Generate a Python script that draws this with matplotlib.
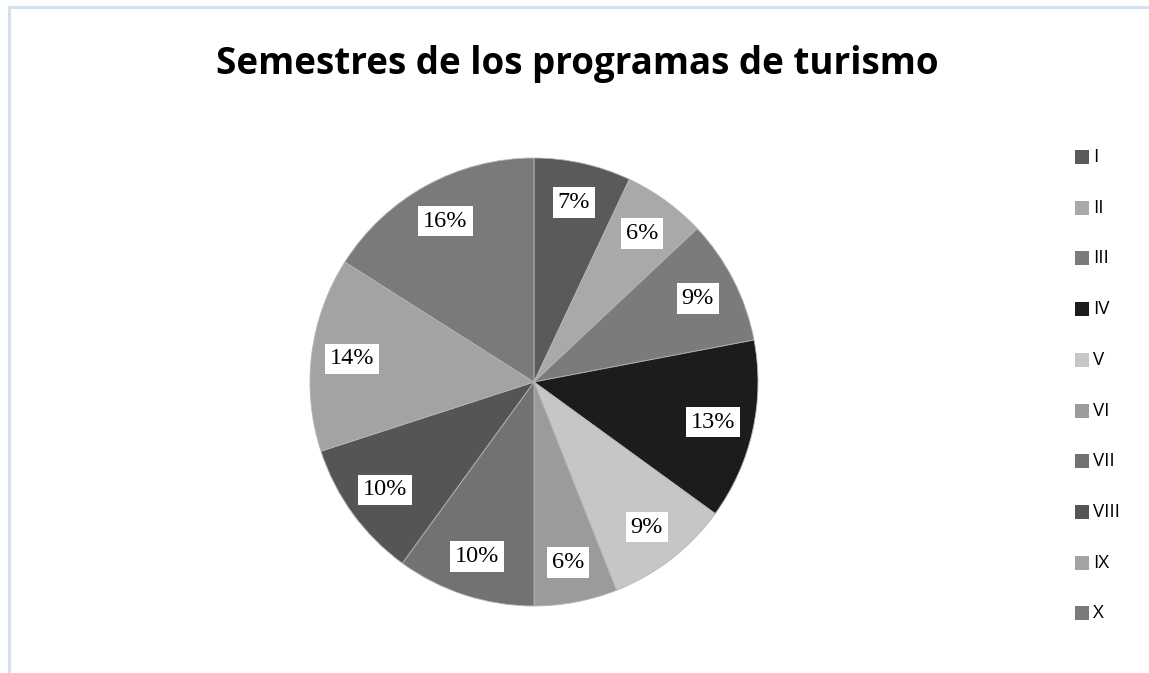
#!/usr/bin/env python3
# -*- coding: utf-8 -*-
"""
Pie chart: Semestres de los programas de turismo.
"""
import matplotlib
matplotlib.use("Agg")
import matplotlib.pyplot as plt
from matplotlib.patches import Rectangle

# data
semestres = ["I", "II", "III", "IV", "V", "VI", "VII", "VIII", "IX", "X"]
porcentajes = [7, 6, 9, 13, 9, 6, 10, 10, 14, 16]
grises = ["#5a5a5a", "#a9a9a9", "#7b7b7b", "#1c1c1c", "#c6c6c6",
          "#9b9b9b", "#727272", "#555555", "#a3a3a3", "#7a7a7a"]

W, H = 1149, 673
fig = plt.figure(figsize=(W / 100, H / 100), dpi=100)
fig.patch.set_facecolor("white")

# light frame (cut off at right and bottom)
fig.add_artist(plt.Line2D([8.5 / W, 8.5 / W], [0, 1 - 6.5 / H],
                          transform=fig.transFigure, color="#d6e1ef", lw=2.2))
fig.add_artist(plt.Line2D([8.5 / W, 1], [1 - 6.5 / H, 1 - 6.5 / H],
                          transform=fig.transFigure, color="#d6e1ef", lw=2.2))

fig.text(577 / W, 1 - 64 / H, "Semestres de los programas de turismo",
         ha="center", va="center", fontsize=26.5, fontweight="bold",
         family=["Open Sans", "DejaVu Sans"])

# pie axes: center (534, 382) px, radius 224 px
cx, cy, r = 534, 382, 224
ax = fig.add_axes([(cx - r) / W, (H - cy - r) / H, 2 * r / W, 2 * r / H])
wedges, texts = ax.pie(porcentajes, colors=grises, startangle=90,
                       counterclock=False, radius=1,
                       labels=[f"{p}%" for p in porcentajes],
                       labeldistance=0.82,
                       wedgeprops=dict(edgecolor="#b5b5b5", linewidth=0.6))
for t in texts:
    t.set_ha("center")
    t.set_va("center")
    t.set_fontsize(17.5)
    t.set_family(["Liberation Serif", "DejaVu Serif"])
    t.set_bbox(dict(facecolor="white", edgecolor="none", pad=3.5))
ax.set_xlim(-1, 1)
ax.set_ylim(-1, 1)
ax.set_aspect("equal")
ax.axis("off")

# legend, drawn by hand
y0, dy = 157, 50.7
for i, (lab, col) in enumerate(zip(semestres, grises)):
    y = y0 + i * dy
    fig.add_artist(Rectangle((1075 / W, 1 - (y + 7) / H), 14 / W, 14 / H,
                             transform=fig.transFigure, facecolor=col,
                             edgecolor="none"))
    fig.text(1093 / W, 1 - y / H, lab, ha="left", va="center",
             fontsize=13.5, family=["Open Sans", "DejaVu Sans"])

fig.savefig("out.png", dpi=100)
